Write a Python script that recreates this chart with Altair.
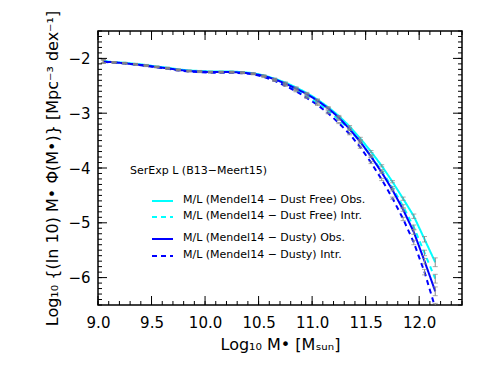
import altair as alt
import pandas as pd

# ---- data ----
log_mass = [9.05, 9.15, 9.25, 9.35, 9.45, 9.55, 9.65, 9.75, 9.85, 9.95,
            10.05, 10.15, 10.25, 10.35, 10.45, 10.55, 10.65, 10.75, 10.85, 10.95,
            11.05, 11.15, 11.25, 11.35, 11.45, 11.55, 11.65, 11.75, 11.85, 11.95,
            12.05, 12.15]

dustfree_obs = [-2.05, -2.07, -2.08, -2.10, -2.12, -2.15, -2.17, -2.20, -2.22, -2.23,
                -2.24, -2.24, -2.24, -2.25, -2.27, -2.31, -2.37, -2.44, -2.53, -2.63,
                -2.75, -2.89, -3.05, -3.24, -3.46, -3.70, -3.96, -4.25, -4.56, -4.88,
                -5.30, -5.72]
dustfree_intr = [-2.05, -2.07, -2.09, -2.11, -2.13, -2.15, -2.18, -2.21, -2.23, -2.24,
                 -2.25, -2.25, -2.25, -2.26, -2.28, -2.33, -2.40, -2.48, -2.58, -2.69,
                 -2.81, -2.95, -3.12, -3.30, -3.53, -3.78, -4.05, -4.36, -4.70, -5.08,
                 -5.55, -6.02]
dusty_obs = [-2.06, -2.07, -2.09, -2.11, -2.13, -2.16, -2.18, -2.21, -2.23, -2.24,
             -2.25, -2.25, -2.25, -2.26, -2.28, -2.32, -2.38, -2.46, -2.55, -2.65,
             -2.77, -2.91, -3.08, -3.29, -3.52, -3.79, -4.08, -4.40, -4.76, -5.17,
             -5.70, -6.25]
dusty_intr = [-2.06, -2.08, -2.09, -2.11, -2.14, -2.16, -2.19, -2.22, -2.24, -2.25,
              -2.26, -2.26, -2.26, -2.27, -2.29, -2.34, -2.41, -2.50, -2.60, -2.72,
              -2.85, -3.00, -3.18, -3.38, -3.62, -3.90, -4.21, -4.55, -4.93, -5.36,
              -5.90, -6.55]
errors = [0.03, 0.01, 0.01, 0.01, 0.01, 0.01, 0.01, 0.01, 0.01, 0.01,
          0.01, 0.01, 0.01, 0.01, 0.01, 0.01, 0.01, 0.01, 0.01, 0.01,
          0.01, 0.01, 0.01, 0.015, 0.02, 0.02, 0.02, 0.02, 0.03, 0.04,
          0.05, 0.08]

series_names = [
    "M/L (Mendel14 − Dust Free) Obs.",
    "M/L (Mendel14 − Dust Free) Intr.",
    "M/L (Mendel14 − Dusty) Obs.",
    "M/L (Mendel14 − Dusty) Intr.",
]
series_values = [dustfree_obs, dustfree_intr, dusty_obs, dusty_intr]
series_colors = ["#00ffff", "#00ffff", "#0000ff", "#0000ff"]
series_dashes = [[1, 0], [5, 4], [1, 0], [5, 4]]
legend_header = "SerExp L (B13−Meert15)"

x_major = [9.0, 9.5, 10.0, 10.5, 11.0, 11.5, 12.0]
y_major = [-6, -5, -4, -3, -2]
x_minor = [round(9.0 + 0.1 * i, 1) for i in range(35)]
y_minor = [round(-6.5 + 0.1 * i, 1) for i in range(51)]

W, H = 364, 274
XDOM = [9.0, 12.4]
YDOM = [-6.5, -1.5]

rows = []
for name, vals in zip(series_names, series_values):
    for xv, yv, ev in zip(log_mass, vals, errors):
        rows.append({"x": xv, "y": yv, "lo": yv - ev, "hi": yv + ev, "series": name})
df = pd.DataFrame(rows)

xs = alt.Scale(domain=XDOM, nice=False, zero=False)
ys = alt.Scale(domain=YDOM, nice=False, zero=False)

x_axis = alt.Axis(values=x_major, format=".1f", ticks=False, domain=False, grid=False,
                  labelFontSize=15, labelPadding=10, labelFont="DejaVu Sans",
                  labelColor="black", labelFlush=False, labelOverlap=False,
                  title="Log₁₀ M• [Mₛᵤₙ]", titleFontSize=16, titleFont="DejaVu Sans",
                  titleFontWeight="normal", titleColor="black",
                  titleX=W / 2, titleY=44, titleBaseline="alphabetic", titleAlign="center")
y_axis = alt.Axis(values=y_major, format="d", ticks=False, domain=False, grid=False,
                  labelFontSize=15, labelPadding=8, labelFont="DejaVu Sans",
                  labelColor="black", labelFlush=False, labelOverlap=False,
                  title="Log₁₀ {(ln 10) M• Φ(M•)} [Mpc⁻³ dex⁻¹]", titleFontSize=16,
                  titleFont="DejaVu Sans", titleFontWeight="normal", titleColor="black",
                  titleX=-46, titleY=H / 2, titleBaseline="middle", titleAlign="center",
                  titleAngle=-90)

color_scale = alt.Scale(domain=series_names, range=series_colors)
dash_scale = alt.Scale(domain=series_names, range=series_dashes)

lines = alt.Chart(df).mark_line(strokeWidth=2, clip=True).encode(
    x=alt.X("x:Q", scale=xs, axis=x_axis),
    y=alt.Y("y:Q", scale=ys, axis=y_axis),
    color=alt.Color("series:N", scale=color_scale, legend=None),
    strokeDash=alt.StrokeDash("series:N", scale=dash_scale, legend=None),
    detail="series:N",
)

err_rule = alt.Chart(df).mark_rule(color="#888888", strokeWidth=1, clip=True).encode(
    x=alt.X("x:Q", scale=xs), y=alt.Y("lo:Q", scale=ys), y2="hi:Q")
err_cap_lo = alt.Chart(df).mark_tick(color="#888888", orient="horizontal", size=5,
                                     thickness=1, clip=True).encode(
    x=alt.X("x:Q", scale=xs), y=alt.Y("lo:Q", scale=ys))
err_cap_hi = alt.Chart(df).mark_tick(color="#888888", orient="horizontal", size=5,
                                     thickness=1, clip=True).encode(
    x=alt.X("x:Q", scale=xs), y=alt.Y("hi:Q", scale=ys))

# inward ticks on all four sides
def xticks(vals, length):
    d = pd.DataFrame({"t": vals})
    b = alt.Chart(d).mark_rule(color="black", strokeWidth=1).encode(
        x=alt.X("t:Q", scale=xs), y=alt.value(H), y2=alt.value(H - length))
    t = alt.Chart(d).mark_rule(color="black", strokeWidth=1).encode(
        x=alt.X("t:Q", scale=xs), y=alt.value(0), y2=alt.value(length))
    return [b, t]

def yticks(vals, length):
    d = pd.DataFrame({"t": vals})
    l = alt.Chart(d).mark_rule(color="black", strokeWidth=1).encode(
        y=alt.Y("t:Q", scale=ys), x=alt.value(0), x2=alt.value(length))
    r = alt.Chart(d).mark_rule(color="black", strokeWidth=1).encode(
        y=alt.Y("t:Q", scale=ys), x=alt.value(W), x2=alt.value(W - length))
    return [l, r]

tick_layers = xticks(x_minor, 4) + xticks(x_major, 9) + yticks(y_minor, 4) + yticks(y_major, 9)

# manual legend
legend_layers = []
hdr = alt.Chart(pd.DataFrame({"t": [legend_header]})).mark_text(
    align="left", baseline="middle", fontSize=11, font="DejaVu Sans", color="black").encode(
    text="t:N", x=alt.value(32), y=alt.value(140))
legend_layers.append(hdr)
row_y = [170, 186, 208, 225]
for name, col, dash, ry in zip(series_names, series_colors, series_dashes, row_y):
    d = pd.DataFrame({"t": [name]})
    legend_layers.append(alt.Chart(d).mark_rule(color=col, strokeWidth=2, strokeDash=dash).encode(
        x=alt.value(54), x2=alt.value(75), y=alt.value(ry)))
    legend_layers.append(alt.Chart(d).mark_text(
        align="left", baseline="middle", fontSize=11, font="DejaVu Sans", color="black").encode(
        text="t:N", x=alt.value(85), y=alt.value(ry - 1)))

chart = alt.layer(lines, err_rule, err_cap_lo, err_cap_hi, *tick_layers, *legend_layers).properties(
    width=W, height=H,
    padding={"left": 90, "top": 23, "right": 21, "bottom": 55},
    autosize=alt.AutoSizeParams(type="none"),
    background="white",
).configure_view(stroke="black", strokeWidth=1.5)

chart.save("out.html", embed_options={"renderer": "svg", "actions": False})
